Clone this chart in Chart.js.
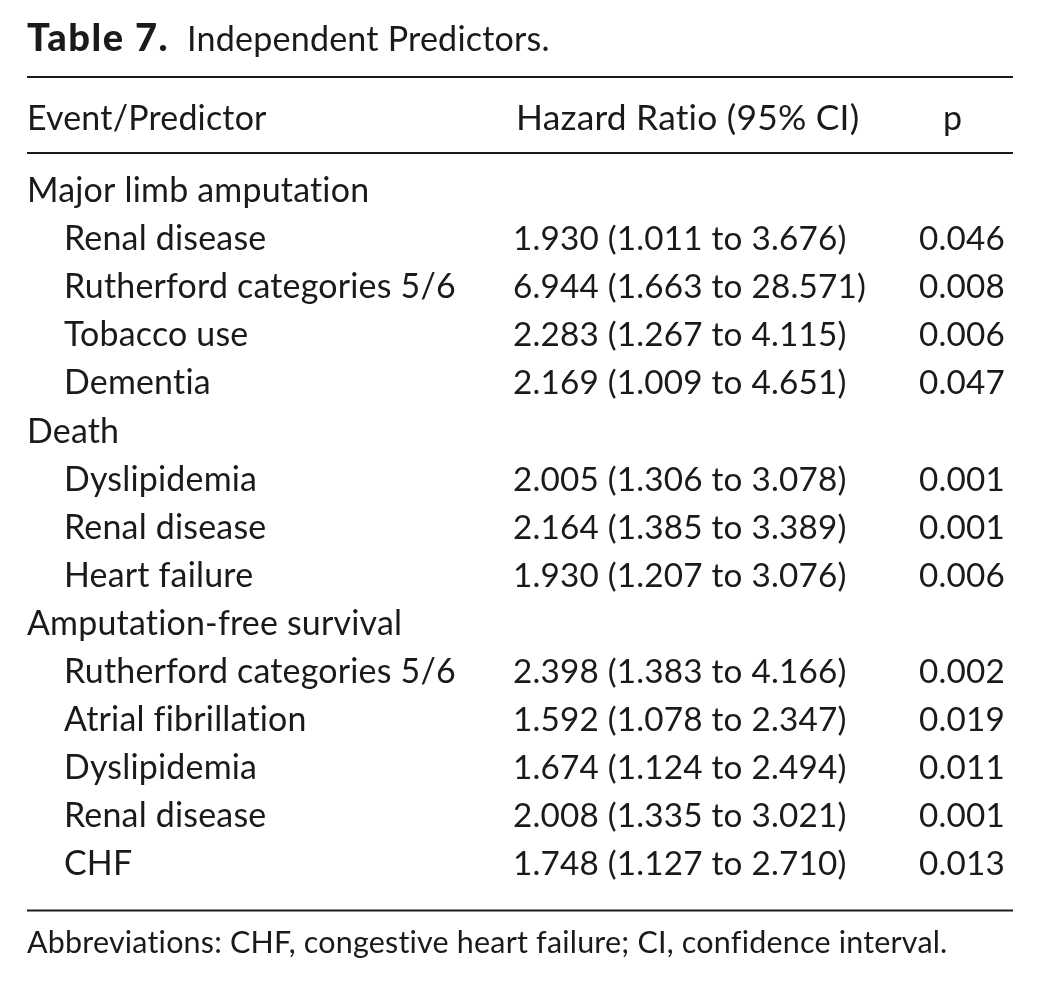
<!DOCTYPE html>
<html>
<head>
<meta charset="utf-8">
<title>Table 7. Independent Predictors.</title>
<script src="https://cdn.jsdelivr.net/npm/chart.js@4.4.1/dist/chart.umd.min.js"></script>
<style>
  html, body { margin: 0; padding: 0; background: #fff; }
  #wrap { width: 1039px; height: 984px; position: relative; }
</style>
</head>
<body>
<div id="wrap"><canvas id="tableChart"></canvas></div>
<script>
// table content
const titleBold = 'Table 7.';
const titleText = 'Independent Predictors.';
const headers = ['Event/Predictor', 'Hazard Ratio (95% CI)', 'p'];
const groups = ['Major limb amputation', 'Death', 'Amputation-free survival'];
const groupOf = [0, 0, 0, 0, 1, 1, 1, 2, 2, 2, 2, 2];
const predictors = [
  'Renal disease', 'Rutherford categories 5/6', 'Tobacco use', 'Dementia',
  'Dyslipidemia', 'Renal disease', 'Heart failure',
  'Rutherford categories 5/6', 'Atrial fibrillation', 'Dyslipidemia', 'Renal disease', 'CHF'
];
const hazardRatio = [1.930, 6.944, 2.283, 2.169, 2.005, 2.164, 1.930, 2.398, 1.592, 1.674, 2.008, 1.748];
const ciLower = [1.011, 1.663, 1.267, 1.009, 1.306, 1.385, 1.207, 1.383, 1.078, 1.124, 1.335, 1.127];
const ciUpper = [3.676, 28.571, 4.115, 4.651, 3.078, 3.389, 3.076, 4.166, 2.347, 2.494, 3.021, 2.710];
const pValues = [0.046, 0.008, 0.006, 0.047, 0.001, 0.001, 0.006, 0.002, 0.019, 0.011, 0.001, 0.013];
const footnote = 'Abbreviations: CHF, congestive heart failure; CI, confidence interval.';

// layout (pixels / row units)
const W = 1039, H = 984;
const rowStep = 48.1, firstBaseline = 202;
const colX = { group: 27, item: 64, hr: 513, p: 919, pHead: 943 };
const ruleRows = { top: -2.6, head: -1.02, bottom: 14.73 };
const headerRow = -1.5;
const titleRow = -3.13, footRow = 15.62;
const ink = '#1a1a1a';
const family = 'Lato, "Open Sans", sans-serif';
const spacing = 0.2;

// build rows: group header rows followed by their predictors
const rows = [];
groups.forEach((g, gi) => {
  rows.push({ kind: 'group', label: g });
  predictors.forEach((p, i) => {
    if (groupOf[i] === gi) {
      rows.push({
        kind: 'item',
        label: p,
        hr: `${hazardRatio[i].toFixed(3)} (${ciLower[i].toFixed(3)} to ${ciUpper[i].toFixed(3)})`,
        p: pValues[i].toFixed(3)
      });
    }
  });
});

const setSpacing = (ctx, px) => { if ('letterSpacing' in ctx) ctx.letterSpacing = px + 'px'; };

function fitSize(ctx, text, target, weight) {
  setSpacing(ctx, 0);
  ctx.font = `${weight} 100px ${family}`;
  const size = 100 * (target - spacing * text.length) / ctx.measureText(text).width;
  setSpacing(ctx, spacing);
  return size;
}
const fontOf = (size, weight) => `${weight} ${size.toFixed(2)}px ${family}`;

const tablePlugin = {
  id: 'tablePlugin',
  afterDraw(chart) {
    const ctx = chart.ctx;
    const xs = chart.scales.x, ys = chart.scales.y;
    const X = v => xs.getPixelForValue(v);
    const Y = r => ys.getPixelForValue(r);
    ctx.save();
    ctx.fillStyle = ink;
    ctx.strokeStyle = ink;
    ctx.textBaseline = 'alphabetic';
    ctx.textAlign = 'left';

    const bodySize = fitSize(ctx, 'Major limb amputation', 343, 'normal');
    const bodyFont = fontOf(bodySize, 'normal');
    const numFont = fontOf(fitSize(ctx, '6.944 (1.663 to 28.571)', 353, 'normal'), 'normal');

    // title
    const boldSize = Math.min(bodySize * 1.12, fitSize(ctx, titleBold, 150, '900'));
    ctx.font = fontOf(boldSize, '900');
    setSpacing(ctx, 0);
    const boldW = ctx.measureText(titleBold).width;
    setSpacing(ctx, Math.min(1.5, Math.max(0, (150 - boldW) / (titleBold.length - 1))));
    ctx.fillText(titleBold, X(27), Y(titleRow));
    ctx.font = fontOf(Math.min(bodySize * 1.05, fitSize(ctx, titleText, 363, 'normal')), 'normal');
    ctx.fillText(titleText, X(187), Y(titleRow));
    setSpacing(ctx, spacing);

    // rules
    ctx.lineWidth = 2;
    Object.values(ruleRows).forEach(r => {
      ctx.beginPath();
      ctx.moveTo(X(27), Y(r));
      ctx.lineTo(X(1013), Y(r));
      ctx.stroke();
    });

    // header
    ctx.font = bodyFont;
    ctx.fillText(headers[0], X(colX.group), Y(headerRow));
    ctx.font = fontOf(fitSize(ctx, headers[1], 344, 'normal'), 'normal');
    ctx.fillText(headers[1], X(516), Y(headerRow));
    ctx.font = bodyFont;
    ctx.fillText(headers[2], X(colX.pHead), Y(headerRow));

    // body
    rows.forEach((row, r) => {
      const y = Y(r);
      ctx.font = bodyFont;
      if (row.kind === 'group') {
        ctx.fillText(row.label, X(colX.group), y);
      } else {
        ctx.fillText(row.label, X(colX.item), y);
        ctx.font = numFont;
        ctx.fillText(row.hr, X(colX.hr), y);
        ctx.fillText(row.p, X(colX.p), y);
      }
    });

    // footnote
    ctx.font = fontOf(fitSize(ctx, footnote, 921, 'normal'), 'normal');
    ctx.fillText(footnote, X(27), Y(footRow));
    ctx.restore();
  }
};

new Chart(document.getElementById('tableChart'), {
  type: 'scatter',
  data: {
    datasets: [{
      data: rows.map((row, r) => ({ x: row.kind === 'group' ? colX.group : colX.item, y: r })),
      pointRadius: 0
    }]
  },
  options: {
    responsive: true,
    maintainAspectRatio: false,
    animation: false,
    events: [],
    layout: { padding: 0 },
    plugins: { legend: { display: false }, tooltip: { enabled: false }, title: { display: false } },
    scales: {
      x: { type: 'linear', display: false, min: 0, max: W },
      y: { type: 'linear', display: false, reverse: true, min: -firstBaseline / rowStep, max: (H - firstBaseline) / rowStep }
    }
  },
  plugins: [tablePlugin]
});
</script>
</body>
</html>
